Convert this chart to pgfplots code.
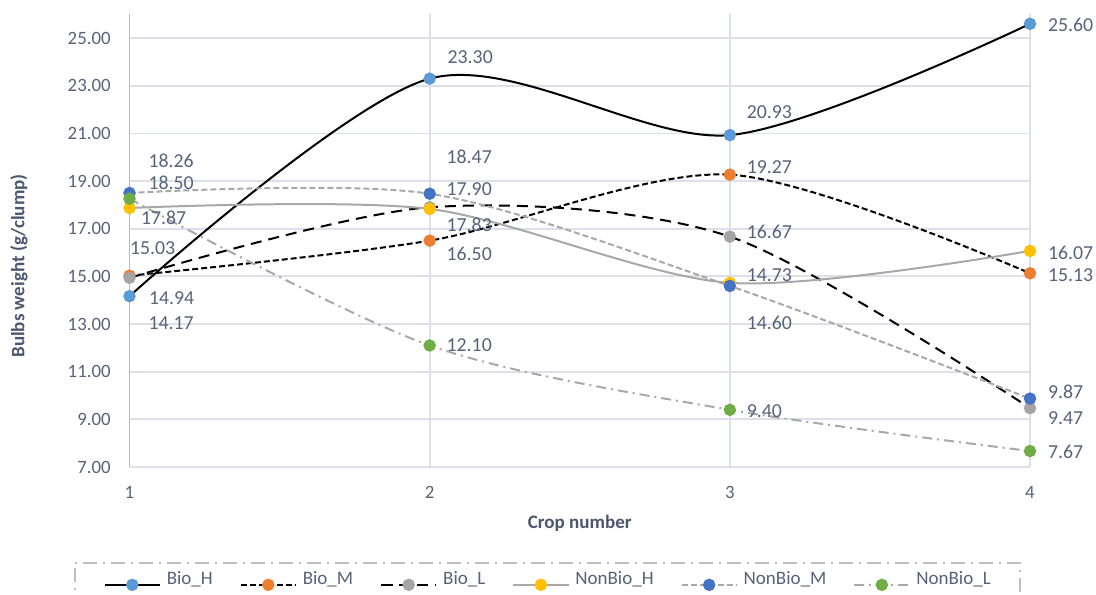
\documentclass[border=0pt]{standalone}
\usepackage{fontspec}
\setmainfont{Carlito}
\usepackage{pgfplots}
\pgfplotsset{compat=1.18}
\usepackage{pgfplotstable}

\definecolor{cBioH}{HTML}{5B9BD5}
\definecolor{cBioM}{HTML}{ED7D31}
\definecolor{cBioL}{HTML}{A5A5A5}
\definecolor{cNonH}{HTML}{FFC000}
\definecolor{cNonM}{HTML}{4472C4}
\definecolor{cNonL}{HTML}{70AD47}
\definecolor{lineGray}{HTML}{A8A8A8}
\definecolor{txt}{HTML}{56637A}
\definecolor{ttl}{HTML}{4A576E}
\definecolor{gridc}{HTML}{DCE1E9}
\definecolor{axisc}{HTML}{B0BCD0}
\definecolor{legc}{HTML}{BFBFBF}

% columns: crop, weight, label offsets (pt)
\pgfplotstableread{
x y dx dy
1 14.17 9 -13.5
2 23.30 8.5 10.5
3 20.93 8 11.5
4 25.60 8.5 -0.75
}\bioH
\pgfplotstableread{
x y dx dy
1 15.03 -0.25 14
2 16.50 8 -6.75
3 19.27 8 3.75
4 15.13 8.5 -1
}\bioM
\pgfplotstableread{
x y dx dy
1 14.94 9.25 -10.25
2 17.90 8 9
3 16.67 8 2.25
4 9.47 8.5 -5
}\bioL
\pgfplotstableread{
x y dx dy
1 17.87 5.25 -5
2 17.83 8 -8
3 14.73 8 3.75
4 16.07 8.5 -0.75
}\nonH
\pgfplotstableread{
x y dx dy
1 18.50 9 5
2 18.47 8 18.5
3 14.60 8 -18.5
4 9.87 8.5 3.25
}\nonM
\pgfplotstableread{
x y dx dy
1 18.26 9 19
2 12.10 8 0
3 9.40 8 -0.5
4 7.67 8.5 -0.5
}\nonL

\pgfplotsset{
  /pgf/number format/assume math mode=true,
  vlabels/.style={
    nodes near coords={\pgfmathprintnumber[fixed,fixed zerofill,precision=2]{\pgfplotspointmeta}},
    point meta=y,
    visualization depends on={\thisrow{dx}\as\dx},
    visualization depends on={\thisrow{dy}\as\dy},
    every node near coord/.append style={anchor=west, inner sep=0pt,
      xshift=\dx pt, yshift=\dy pt, text=txt,
      font=\fontsize{9.9pt}{12pt}\selectfont},
  },
  series/.style={smooth, tension=0.5, line width=1pt, mark=*, mark size=2.6pt,
    mark options={solid, draw=#1, fill=#1}, vlabels},
}

\begin{document}
\begin{tikzpicture}
\begin{axis}[
  at={(0pt,0pt)}, anchor=south west,
  scale only axis, width=450.25pt, height=226.35pt,
  xmin=1, xmax=4, ymin=7, ymax=26,
  xtick={1,2,3,4}, ytick={7,9,...,25},
  yticklabel={\pgfmathprintnumber[fixed,fixed zerofill,precision=2]{\tick}},
  major tick length=0pt,
  axis lines*=left,
  x axis line style={draw=gridc, line width=0.9pt, -},
  y axis line style={draw=axisc, line width=0.9pt, -},
  xmajorgrids, ymajorgrids,
  major grid style={draw=gridc, line width=0.9pt},
  tick label style={text=txt, font=\fontsize{9.4pt}{11pt}\selectfont, inner sep=0pt},
  yticklabel style={anchor=east, xshift=-9.25pt},
  xticklabel style={anchor=center, yshift=-12.5pt},
  every axis y label/.style={at={(rel axis cs:-0.1227,0.444)}, rotate=90, anchor=center},
  every axis x label/.style={at={(rel axis cs:0.5,-0.1237)}, anchor=center},
  label style={text=ttl, font=\fontsize{9.5pt}{11pt}\selectfont\bfseries},
  ylabel={Bulbs weight (g/clump)},
  xlabel={Crop number},
  clip=false,
  legend columns=6,
  legend image code/.code={\draw[mark repeat=2,mark phase=2,#1]
    plot coordinates {(0pt,0pt) (13.75pt,0pt) (27.5pt,0pt)};},
  legend style={at={(-0.0616,-0.2099)}, anchor=north west,
    draw=legc, line width=0.75pt, dash pattern=on 7pt off 3pt on 1pt off 3pt,
    inner xsep=14.5pt, inner ysep=4.5pt,
    text=txt, font=\fontsize{9.5pt}{11pt}\selectfont,
    nodes={inner sep=0pt, anchor=base west},
    /tikz/every odd column/.append style={column sep=3pt},
    /tikz/every even column/.append style={column sep=13.5pt}},
]
\addplot[black, series=cBioH] table[x=x,y=y] {\bioH};
\addlegendentry{Bio\_H}
\addplot[black, series=cBioM, dash pattern=on 3pt off 1.5pt] table[x=x,y=y] {\bioM};
\addlegendentry{Bio\_M}
\addplot[black, series=cBioL, dash pattern=on 5.5pt off 3.5pt] table[x=x,y=y] {\bioL};
\addlegendentry{Bio\_L}
\addplot[lineGray, series=cNonH] table[x=x,y=y] {\nonH};
\addlegendentry{NonBio\_H}
\addplot[lineGray, series=cNonM, dash pattern=on 3pt off 1.5pt] table[x=x,y=y] {\nonM};
\addlegendentry{NonBio\_M}
\addplot[lineGray, series=cNonL, dash pattern=on 5pt off 2.5pt on 1pt off 2.5pt] table[x=x,y=y] {\nonL};
\addlegendentry{NonBio\_L}
\end{axis}
\pgfresetboundingbox
\useasboundingbox (-64.75pt,-63.5pt) rectangle (483.25pt,233.5pt);
\end{tikzpicture}
\end{document}
